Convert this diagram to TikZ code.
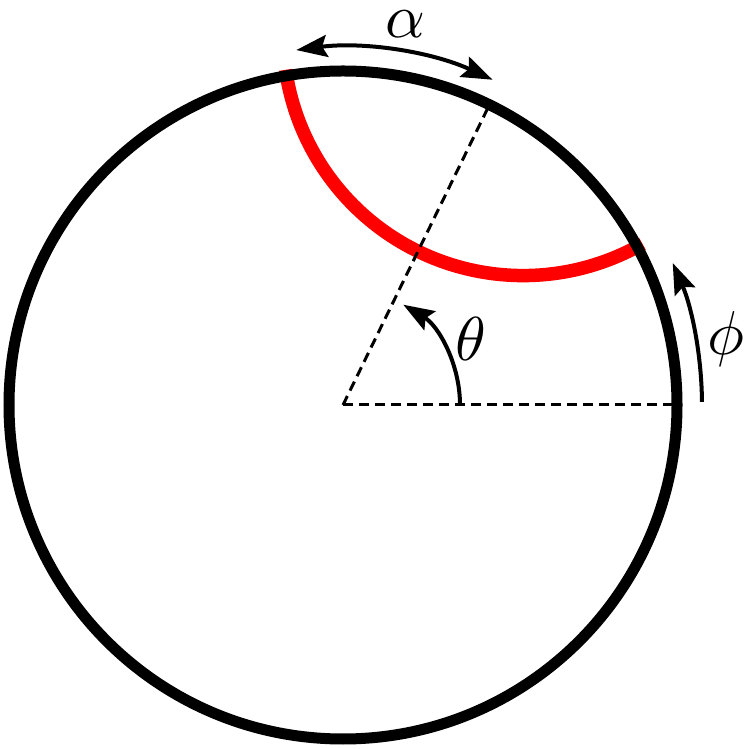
\documentclass[tikz,border=0pt]{standalone}
\usetikzlibrary{arrows.meta,calc}
\tikzset{
  bigcircle/.style={line width=11pt, draw=black},
  geod/.style={line width=13.5pt, draw=red},
  dashline/.style={line width=3pt, dash pattern=on 10pt off 6pt},
  anglearrow/.style={line width=4pt, -{Stealth[length=31pt, width=22pt, inset=5pt]}},
  botharrow/.style={line width=4pt, {Stealth[length=31pt, width=22pt, inset=5pt]}-{Stealth[length=31pt, width=22pt, inset=5pt]}},
  biglabel/.style={inner sep=0pt, scale=6.2}
}
\begin{document}
\begin{tikzpicture}[x=1pt, y=1pt]
\useasboundingbox (0,0) rectangle (748,749);
\coordinate (O) at (343,344);
\coordinate (C) at ($(O)+(64:411)$);
% red geodesic
\draw[geod] (C) ++(188.2:240) arc[start angle=188.2, end angle=299.8, radius=240];
% boundary circle
\draw[bigcircle] (O) circle[radius=334];
% dashed radii
\coordinate (E0) at ($(O)+(0:334)$);
\coordinate (E1) at ($(O)+(64:334)$);
\draw[dashline] (O) -- (E0);
\draw[dashline] (O) -- (E1);
% theta
\draw[anglearrow] (O) ++(0:117) arc[start angle=0, end angle=59, radius=117];
\node[biglabel] (th) at (471,410) {$\theta$};
% phi
\draw[anglearrow] (O) ++(0.5:359) arc[start angle=0.5, end angle=23.3, radius=359];
\node[biglabel] (ph) at (726,410) {$\phi$};
% alpha
\draw[botharrow] (O) ++(65.3:358) arc[start angle=65.3, end angle=97.5, radius=358];
\node[biglabel] (al) at (405.5,725) {$\alpha$};
\end{tikzpicture}
\end{document}
